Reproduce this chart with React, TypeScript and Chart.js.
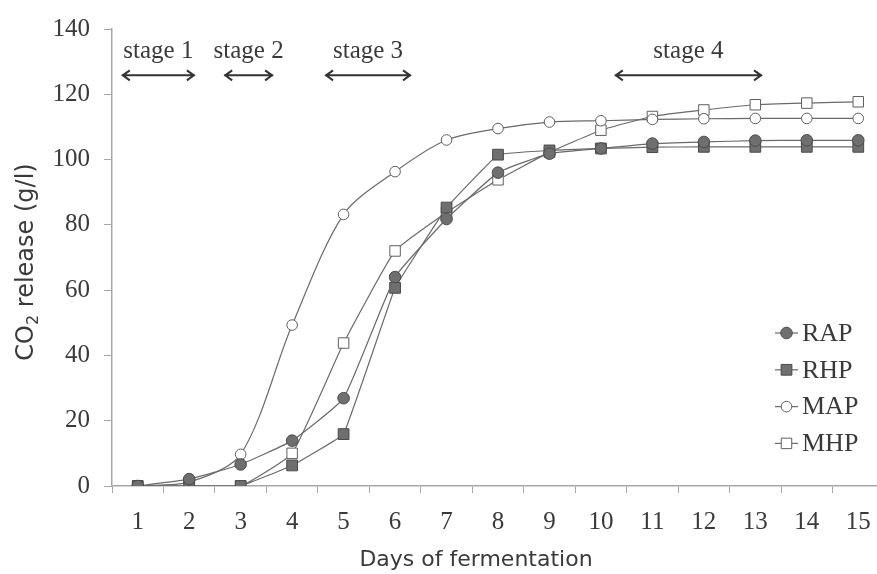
import React, { useEffect, useRef } from 'react';
import { Chart, registerables } from 'chart.js';

Chart.register(...registerables);

// ---- data ----
const days = ['1', '2', '3', '4', '5', '6', '7', '8', '9', '10', '11', '12', '13', '14', '15'];
const rapValues = [0, 2.1, 6.6, 13.9, 26.9, 64.0, 81.8, 96.0, 101.8, 103.4, 104.9, 105.4, 105.8, 105.9, 105.9];
const rhpValues = [0, 0, 0, 6.3, 15.9, 60.7, 85.3, 101.5, 102.8, 103.4, 103.8, 103.9, 103.9, 103.9, 103.9];
const mapValues = [0, 1.2, 9.7, 49.3, 83.2, 96.3, 106.0, 109.5, 111.5, 111.9, 112.3, 112.5, 112.6, 112.6, 112.6];
const mhpValues = [0, 0, 0, 10.0, 43.8, 72.0, 83.8, 93.8, 102.2, 109.0, 113.2, 115.2, 116.8, 117.3, 117.7];
const seriesNames = ['RAP', 'RHP', 'MAP', 'MHP'];

const yTicks = [0, 20, 40, 60, 80, 100, 120, 140];

const stageLabels = ['stage 1', 'stage 2', 'stage 3', 'stage 4'];
const stageStartDay = [0.69, 2.68, 4.64, 10.27];
const stageEndDay = [2.11, 3.63, 6.31, 13.13];
const stageArrowLevel = 125.8;
const stageTextLevel = 133.0;

const xTitle = 'Days of fermentation';
const yTitleParts = ['CO', '2', ' release (g/l)'];

const SERIF = "'Liberation Serif', 'Times New Roman', serif";
const SANS = "'DejaVu Sans', Verdana, sans-serif";
const TEXT = '#3a3a3a';
const LINE = '#6a6a6a';

const overlayPlugin = {
  id: 'overlay',
  afterDraw(chart: any) {
    const ctx: CanvasRenderingContext2D = chart.ctx;
    const xs = chart.scales.x;
    const ys = chart.scales.y;
    ctx.save();

    // stage annotations
    ctx.fillStyle = TEXT;
    ctx.strokeStyle = '#333';
    ctx.lineWidth = 2;
    ctx.font = `25px ${SERIF}`;
    ctx.textAlign = 'center';
    ctx.textBaseline = 'middle';
    const ay = ys.getPixelForValue(stageArrowLevel);
    const ty = ys.getPixelForValue(stageTextLevel);
    stageLabels.forEach((label, i) => {
      const x1 = xs.getPixelForValue(stageStartDay[i] - 1);
      const x2 = xs.getPixelForValue(stageEndDay[i] - 1);
      ctx.beginPath();
      ctx.moveTo(x1, ay);
      ctx.lineTo(x2, ay);
      ctx.moveTo(x1 + 8, ay - 5);
      ctx.lineTo(x1 + 1, ay);
      ctx.lineTo(x1 + 8, ay + 5);
      ctx.moveTo(x2 - 8, ay - 5);
      ctx.lineTo(x2 - 1, ay);
      ctx.lineTo(x2 - 8, ay + 5);
      ctx.stroke();
      ctx.fillText(label, (x1 + x2) / 2, ty);
    });

    // legend
    const legendX = 775;
    const legendY0 = 333;
    const legendStep = 36.8;
    chart.data.datasets.forEach((ds: any, i: number) => {
      const y = legendY0 + i * legendStep;
      ctx.strokeStyle = ds.borderColor;
      ctx.lineWidth = 1.2;
      ctx.beginPath();
      ctx.moveTo(legendX, y);
      ctx.lineTo(legendX + 23, y);
      ctx.stroke();
      const cx = legendX + 11.5;
      ctx.fillStyle = ds.pointBackgroundColor;
      ctx.strokeStyle = ds.pointBorderColor;
      ctx.lineWidth = 1;
      ctx.beginPath();
      if (ds.pointStyle === 'circle') {
        ctx.arc(cx, y, ds.pointRadius, 0, Math.PI * 2);
      } else {
        const s = ds.pointRadius * Math.SQRT1_2;
        ctx.rect(cx - s, y - s, 2 * s, 2 * s);
      }
      ctx.fill();
      ctx.stroke();
      ctx.fillStyle = TEXT;
      ctx.font = `26px ${SERIF}`;
      ctx.textAlign = 'left';
      ctx.textBaseline = 'middle';
      ctx.fillText(ds.label, legendX + 27, y + 1);
    });

    // x title
    ctx.fillStyle = TEXT;
    ctx.font = `22px ${SANS}`;
    ctx.textAlign = 'center';
    ctx.textBaseline = 'alphabetic';
    ctx.fillText(xTitle, 476, 566);

    // y title with subscript
    ctx.save();
    ctx.translate(33, 262);
    ctx.rotate(-Math.PI / 2);
    const big = `24px ${SANS}`;
    const small = `16px ${SANS}`;
    ctx.font = big;
    const w0 = ctx.measureText(yTitleParts[0]).width;
    const w2 = ctx.measureText(yTitleParts[2]).width;
    ctx.font = small;
    const w1 = ctx.measureText(yTitleParts[1]).width;
    const total = w0 + w1 + w2;
    let x = -total / 2;
    ctx.textAlign = 'left';
    ctx.textBaseline = 'alphabetic';
    ctx.font = big;
    ctx.fillText(yTitleParts[0], x, 0);
    x += w0;
    ctx.font = small;
    ctx.fillText(yTitleParts[1], x, 5);
    x += w1;
    ctx.font = big;
    ctx.fillText(yTitleParts[2], x, 0);
    ctx.restore();

    ctx.restore();
  },
};

export default function App() {
  const canvasRef = useRef<HTMLCanvasElement | null>(null);

  useEffect(() => {
    if (!canvasRef.current) return;
    const mk = (label: string, data: number[], style: string, filled: boolean, radius: number, tension: number) => ({
      label,
      data,
      borderColor: LINE,
      borderWidth: 1.2,
      pointStyle: style,
      pointRadius: radius,
      pointHoverRadius: radius,
      pointBackgroundColor: filled ? '#6f6f6f' : '#ffffff',
      pointBorderColor: filled ? '#4a4a4a' : '#5e5e5e',
      pointBorderWidth: 1,
      tension,
      fill: false,
    });
    const chart = new Chart(canvasRef.current, {
      type: 'line',
      data: {
        labels: days,
        datasets: [
          mk(seriesNames[0], rapValues, 'circle', true, 5.8, 0.12),
          mk(seriesNames[1], rhpValues, 'rect', true, 7.6, 0.06),
          mk(seriesNames[2], mapValues, 'circle', false, 5.3, 0.3),
          mk(seriesNames[3], mhpValues, 'rect', false, 7.4, 0.12),
        ] as any,
      },
      options: {
        responsive: false,
        animation: false,
        layout: { padding: { left: 0, right: 16, top: 22, bottom: 0 } },
        plugins: { legend: { display: false }, tooltip: { enabled: false } },
        scales: {
          x: {
            type: 'category',
            offset: true,
            grid: { offset: true, drawOnChartArea: false, tickLength: 7, color: '#a8a8a8' },
            border: { color: '#a8a8a8', width: 1.5 },
            ticks: {
              autoSkip: false,
              maxRotation: 0,
              padding: 14,
              color: TEXT,
              font: { family: SERIF, size: 25 },
            },
            afterFit: (s: any) => { s.height = 88; },
          },
          y: {
            min: yTicks[0],
            max: yTicks[yTicks.length - 1],
            afterBuildTicks: (s: any) => { s.ticks = yTicks.map((v) => ({ value: v })); },
            grid: { drawOnChartArea: false, tickLength: 8, color: '#a8a8a8' },
            border: { color: '#a8a8a8', width: 1.5 },
            ticks: {
              padding: 14,
              color: TEXT,
              font: { family: SERIF, size: 25 },
            },
            afterFit: (s: any) => { s.width = 112; },
          },
        },
      },
      plugins: [overlayPlugin],
    } as any);
    return () => chart.destroy();
  }, []);

  return (
    <div style={{ position: 'fixed', left: 0, top: 0, width: 877, height: 574, overflow: 'hidden', background: '#fff' }}>
      <canvas ref={canvasRef} width={900} height={574} style={{ width: 900, height: 574, display: 'block' }} />
    </div>
  );
}
